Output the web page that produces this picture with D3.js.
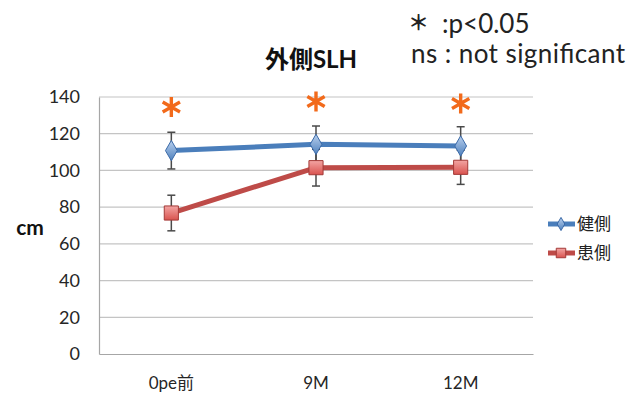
<!DOCTYPE html>
<html><head><meta charset="utf-8">
<script src="https://cdn.jsdelivr.net/npm/d3@7/dist/d3.min.js"></script>
<style>body{margin:0;background:#fff;} svg{display:block;}</style>
</head><body>
<svg id="c" width="642" height="398"></svg>
<script>
const categories = ["0pe前", "9M", "12M"];
const healthy = [110.8, 114.2, 113.3];
const healthyErr = [10, 10, 10.5];
const affected = [76.8, 101.5, 101.7];
const affectedErr = [9.7, 10, 9.3];
const sigMarkY = [134.5, 137.5, 136.5];
const yTicks = [0, 20, 40, 60, 80, 100, 120, 140];
const seriesNames = ["健側", "患側"];

const svg = d3.select("#c");
const latin = "Lato, 'Noto Sans CJK JP', sans-serif";
const m = {left: 99, right: 533, top: 97, bottom: 354};
const x = d3.scaleBand().domain(categories).range([m.left, m.right]);
const y = d3.scaleLinear().domain([0, 140]).range([m.bottom, m.top]);
const cx = c => x(c) + x.bandwidth() / 2;

const defs = svg.append("defs");
const gb = defs.append("linearGradient").attr("id","gb").attr("x1",0).attr("y1",0).attr("x2",0).attr("y2",1);
gb.append("stop").attr("offset","0").attr("stop-color","#b9d0ee");
gb.append("stop").attr("offset","1").attr("stop-color","#4f81bd");
const gr = defs.append("linearGradient").attr("id","gr").attr("x1",0).attr("y1",0).attr("x2",0).attr("y2",1);
gr.append("stop").attr("offset","0").attr("stop-color","#f3a5a3");
gr.append("stop").attr("offset","1").attr("stop-color","#d9534f");

// grid
svg.append("g").selectAll("line").data(yTicks.filter(t => t > 0)).join("line")
  .attr("x1", m.left).attr("x2", m.right)
  .attr("y1", d => y(d)).attr("y2", d => y(d))
  .attr("stroke", "#c4c4c4").attr("stroke-width", 1.2);

// axes
const ya = svg.append("g").attr("transform", `translate(${m.left},0)`)
  .call(d3.axisLeft(y).tickValues(yTicks).tickSize(0).tickPadding(19));
ya.select(".domain").attr("stroke", "#a6a6a6").attr("stroke-width", 1.2);
ya.selectAll("text").attr("font-family", latin).attr("font-size", 18).attr("fill", "#262626");

const xa = svg.append("g").attr("transform", `translate(0,${m.bottom})`)
  .call(d3.axisBottom(x).tickSize(0).tickPadding(23));
xa.select(".domain").attr("stroke", "#a6a6a6").attr("stroke-width", 1.2);
xa.selectAll("text").attr("font-family", latin).attr("font-size", 17).attr("fill", "#262626");

// title & labels
svg.append("text").attr("x", 311).attr("y", 68).attr("text-anchor", "middle")
  .attr("font-family", latin).attr("font-weight", "bold").attr("font-size", 24).attr("fill", "#111")
  .text("外側SLH");
svg.append("text").attr("x", 30).attr("y", 235).attr("text-anchor", "middle")
  .attr("font-family", latin).attr("font-weight", "bold").attr("font-size", 21).attr("fill", "#111")
  .text("cm");

const note = svg.append("g").attr("font-family", latin).attr("font-size", 26).attr("fill", "#222");
note.append("text").attr("x", 408).attr("y", 30).attr("font-family", "'Noto Sans CJK JP', sans-serif")
  .attr("font-size", 21).attr("font-weight", "bold").text("＊");
note.append("text").attr("x", 442).attr("y", 33).text(":p<0.05");
note.append("text").attr("x", 411).attr("y", 63).attr("textLength", 214).attr("lengthAdjust", "spacing")
  .text("ns : not significant");

// series
const series = [
  {name: seriesNames[0], vals: healthy, err: healthyErr, line: "#4a7ebb", fill: "url(#gb)", stroke: "#3b6aa8", shape: "diamond"},
  {name: seriesNames[1], vals: affected, err: affectedErr, line: "#be4b48", fill: "url(#gr)", stroke: "#a33a37", shape: "square"}
];

const lineGen = d3.line().x((d, i) => cx(categories[i])).y(d => y(d));
const symDiamond = d3.symbol().type(d3.symbolDiamond).size(120);
const symSquare = d3.symbol().type(d3.symbolSquare).size(200);

// error bars
series.forEach(s => {
  const g = svg.append("g").attr("stroke", "#4a4a4a").attr("stroke-width", 1.5);
  s.vals.forEach((v, i) => {
    const px = cx(categories[i]);
    g.append("line").attr("x1", px).attr("x2", px).attr("y1", y(v - s.err[i])).attr("y2", y(v + s.err[i]));
    [v - s.err[i], v + s.err[i]].forEach(e =>
      g.append("line").attr("x1", px - 4).attr("x2", px + 4).attr("y1", y(e)).attr("y2", y(e)));
  });
});

series.forEach(s => {
  svg.append("path").datum(s.vals).attr("d", lineGen)
    .attr("fill", "none").attr("stroke", s.line).attr("stroke-width", 5).attr("stroke-linejoin", "round");
  svg.append("g").selectAll("path").data(s.vals).join("path")
    .attr("transform", (d, i) => `translate(${cx(categories[i])},${y(d)})`)
    .attr("d", s.shape === "diamond" ? symDiamond() : symSquare())
    .attr("fill", s.fill).attr("stroke", s.stroke).attr("stroke-width", 1);
});

// significance asterisks
function asterisk(r) {
  let p = "";
  for (let k = 0; k < 3; k++) {
    const a = Math.PI / 2 + k * Math.PI / 3;
    p += `M${r * Math.cos(a)},${r * Math.sin(a)}L${-r * Math.cos(a)},${-r * Math.sin(a)}`;
  }
  return p;
}
svg.append("g").selectAll("path").data(sigMarkY).join("path")
  .attr("transform", (d, i) => `translate(${cx(categories[i])},${y(d)})`)
  .attr("d", asterisk(10)).attr("stroke", "#f26a1b").attr("stroke-width", 3.4).attr("fill", "none");

// legend
const lg = svg.append("g");
series.forEach((s, i) => {
  const ly = 224 + i * 29;
  lg.append("line").attr("x1", 548).attr("x2", 575).attr("y1", ly).attr("y2", ly)
    .attr("stroke", s.line).attr("stroke-width", 5);
  lg.append("path").attr("transform", `translate(561,${ly})`)
    .attr("d", s.shape === "diamond" ? d3.symbol().type(d3.symbolDiamond).size(50)() : d3.symbol().type(d3.symbolSquare).size(90)())
    .attr("fill", s.fill).attr("stroke", s.stroke).attr("stroke-width", 1);
  lg.append("text").attr("x", 577).attr("y", ly + 6).attr("font-family", "'Noto Sans CJK JP', sans-serif")
    .attr("font-size", 17).attr("fill", "#222").text(s.name);
});
</script>
</body></html>
